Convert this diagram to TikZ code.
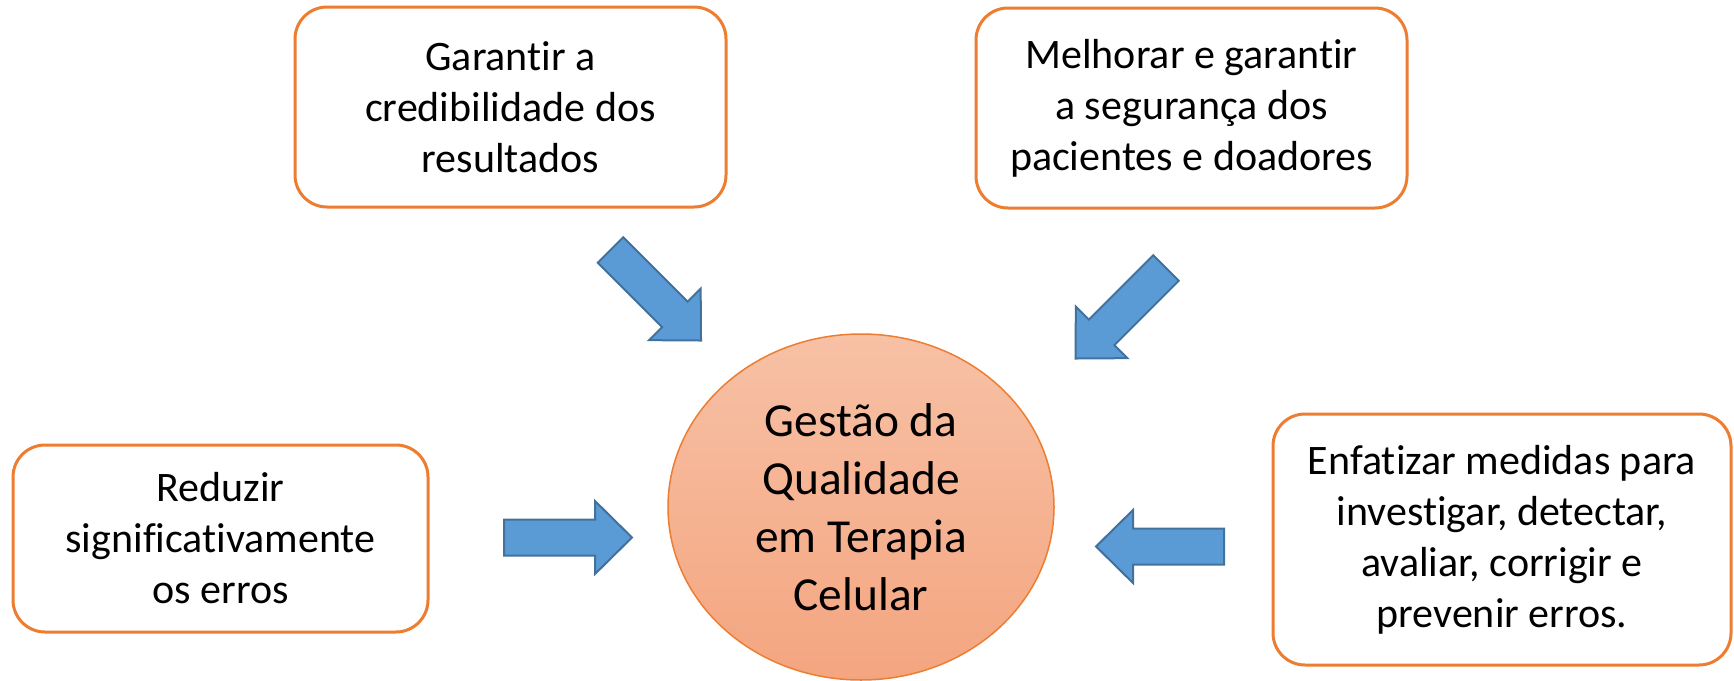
\documentclass[tikz,border=0pt]{standalone}
\usepackage{fontspec}
\setmainfont[Ligatures=NoCommon]{Carlito}
\usepackage{tikz}
\usetikzlibrary{positioning, shapes.geometric}

\definecolor{laranja}{RGB}{237,125,49}
\definecolor{azul}{RGB}{91,155,213}
\definecolor{azulescuro}{RGB}{65,113,156}
\definecolor{salmaoclaro}{RGB}{247,193,165}
\definecolor{salmao}{RGB}{244,165,128}

\begin{document}
\begin{tikzpicture}[x=0.5pt, y=-0.5pt,
    caixa/.style={rectangle, rounded corners=16pt, draw=laranja, line width=1.5pt, fill=white, align=center, inner sep=0pt, font=\fontsize{21}{25.5}\selectfont},
    centro/.style={ellipse, draw=laranja, line width=0.75pt, top color=salmaoclaro, bottom color=salmao, align=center, inner sep=0pt, font=\fontsize{23.7}{29}\selectfont},
    seta/.pic={\draw[fill=azul, draw=azulescuro, line width=1pt] (0,-18) -- (91,-18) -- (91,-36.5) -- (128,0) -- (91,36.5) -- (91,18) -- (0,18) -- cycle;}]
        \useasboundingbox (0,0) rectangle (1734,680);
        % \fill[white] (0,0) rectangle (1734,680);
        \node[centro, minimum width=193pt, minimum height=173pt] (gestao) at (861,507) {Gestão da\\Qualidade\\em Terapia\\Celular};
        \node[caixa, minimum width=215.5pt, minimum height=100pt] (garantir) at (510.5,107) {Garantir a\\credibilidade dos\\resultados};
        \node[caixa, minimum width=215.5pt, minimum height=100pt] (melhorar) at (1191.5,108) {Melhorar e garantir\\a segurança dos\\pacientes e doadores};
        \node[caixa, minimum width=207.5pt, minimum height=93.5pt] (reduzir) at (220.5,538.5) {Reduzir\\significativamente\\os erros};
        \node[caixa, minimum width=229pt, minimum height=125.5pt] (enfatizar) at (1502,539.5) {Enfatizar medidas para\\investigar, detectar,\\avaliar, corrigir e\\prevenir erros.};

        \pic[rotate=-45] at (610.5,250) {seta};
        \pic[rotate=-135] at (1166,268) {seta};
        \pic at (504,537.5) {seta};
        \pic[rotate=180] at (1224,546.5) {seta};
    \end{tikzpicture}
\end{document}
